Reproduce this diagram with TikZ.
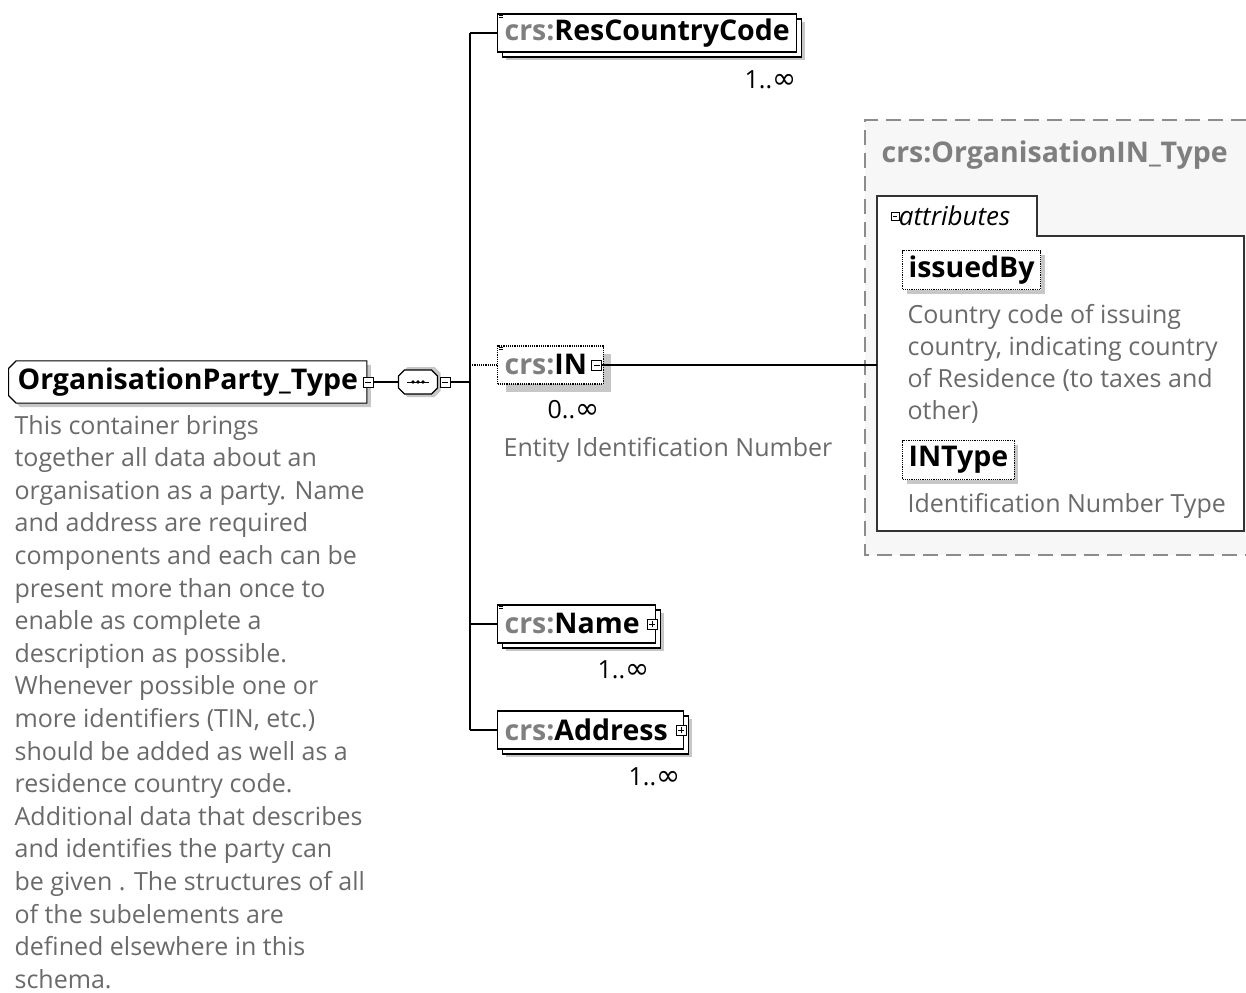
\documentclass[tikz,border=0pt]{standalone}
\usepackage{fontspec}
\setmainfont{Open Sans}
\newfontfamily\symfont{DejaVu Sans}
\usetikzlibrary{shapes.misc, shadows, positioning}

\definecolor{crsgray}{HTML}{7F7F7F}
\definecolor{descgray}{HTML}{6A6A6A}
\newcommand\crspre{\textcolor{crsgray}{crs:}}
\newcommand\infsym{{\symfont\fontsize{29}{30}\selectfont ∞}}
\newcommand\boldfont{\fontsize{28.5}{32}\selectfont\bfseries}

\tikzset{
  elem/.style={draw, fill=white, anchor=west, inner xsep=7pt, minimum height=38pt, font=\boldfont,
    drop shadow={shadow xshift=8pt, shadow yshift=-8pt, fill=black!22, opacity=1}},
  multi/.style={copy shadow={shadow xshift=5pt, shadow yshift=-5pt}},
  attrib/.style={draw, densely dotted, fill=white, anchor=west, inner xsep=6pt, minimum height=39pt,
    font=\boldfont, drop shadow={shadow xshift=4pt, shadow yshift=-4pt, fill=black!22, opacity=1}},
  pmbox/.style={draw, solid, fill=white, minimum size=10pt, inner sep=0pt, line width=0.8pt},
  minus/.style={pmbox, path picture={\draw ([xshift=2pt]path picture bounding box.west)
    -- ([xshift=-2pt]path picture bounding box.east);}},
  plus/.style={pmbox, path picture={
    \draw ([xshift=2pt]path picture bounding box.west) -- ([xshift=-2pt]path picture bounding box.east);
    \draw ([yshift=2pt]path picture bounding box.south) -- ([yshift=-2pt]path picture bounding box.north);}},
  mult/.style={anchor=east, font=\fontsize{25}{28}\selectfont, inner sep=0pt},
  desc/.style={anchor=base west, font=\fontsize{25}{28}\selectfont, text=descgray, inner sep=0pt}
}

\begin{document}
\begin{tikzpicture}[x=1pt, y=-1pt, line width=1.2pt]
  \useasboundingbox (0,0) rectangle (1246,992);

  % referenced type on the right
  \fill[black!3] (865,120) rectangle (1246,555);
  \draw[black!45, line width=1.5pt, dash pattern=on 15pt off 8pt]
    (1246,120) -- (865,120) -- (865,555) -- (1246,555);
  \node[anchor=west, inner sep=0pt, text=crsgray, font=\boldfont]
    (intype) at (881,155) {crs:OrganisationIN\_Type};
  \draw[black!80, fill=white] (877,531) -- (877,196) -- (1037,196) -- (1037,236)
    -- (1244,236) -- (1244,531) -- cycle;
  \node[minus, minimum size=8pt, line width=0.6pt] (attrpm) at (895,216) {};
  \node[anchor=west, inner sep=0pt, font=\fontsize{26}{30}\selectfont\itshape]
    (attrs) at ([xshift=-1pt]attrpm.east) {attributes};

  \node[attrib] (issued) at (902,270) {issuedBy};
  \foreach \t [count=\i] in {Country code of issuing, {country, indicating country},
      of Residence (to taxes and, other)}
    \node[desc] (iss\i) at (907,{323+32*(\i-1)}) {\t};
  \node[attrib] (intp) at (902,460) {INType};
  \node[desc] (intpdoc) at (907,512) {Identification Number Type};

  % main element and its sequence
  \node[draw, fill=white, anchor=west, chamfered rectangle, chamfered rectangle xsep=4pt,
    chamfered rectangle corners={north west, south west}, inner xsep=5pt, minimum height=36pt,
    font=\boldfont, drop shadow={shadow xshift=4pt, shadow yshift=-4pt, fill=black!22, opacity=1}]
    (main) at (8,382) {OrganisationParty\_Type};
  \node[minus] (mainpm) at ([xshift=1pt]main.east) {};

  \node[minimum width=39pt, minimum height=24pt, inner sep=0pt] (seq) at (418,382) {};
  \fill[black!22] ([shift={(-16.5,-9)}]seq.center) -- ([shift={(-10.5,-15)}]seq.center)
    -- ([shift={(16.5,-15)}]seq.center) -- ([shift={(22.5,-9)}]seq.center)
    -- ([shift={(22.5,9)}]seq.center) -- ([shift={(16.5,15)}]seq.center)
    -- ([shift={(-10.5,15)}]seq.center) -- ([shift={(-16.5,9)}]seq.center) -- cycle;
  \draw[fill=white] ([shift={(-19.5,-6)}]seq.center) -- ([shift={(-13.5,-12)}]seq.center)
    -- ([shift={(13.5,-12)}]seq.center) -- ([shift={(19.5,-6)}]seq.center)
    -- ([shift={(19.5,6)}]seq.center) -- ([shift={(13.5,12)}]seq.center)
    -- ([shift={(-13.5,12)}]seq.center) -- ([shift={(-19.5,6)}]seq.center) -- cycle;
  \draw[line width=0.8pt] ([xshift=-11pt]seq.center) -- ([xshift=11pt]seq.center);
  \foreach \d in {-5,0,5} \fill ([xshift=\d pt]seq.center) circle (1.8pt);
  \node[minus] (seqpm) at (445,382) {};

  \coordinate (jn) at (470,382);
  \coordinate (t1) at (470,33);
  \coordinate (t2) at (470,365);
  \coordinate (t3) at (470,624);
  \coordinate (t4) at (470,730);

  \draw (mainpm) -- (seq);
  \draw (seqpm) -- (jn);
  \draw (t1) -- (t4);

  % children
  \node[elem, multi] (rcc) at (497,33) {\crspre ResCountryCode};
  \node[elem, densely dotted] (in) at (497,365) {\crspre IN\rule{9pt}{0pt}};
  \node[minus] (inpm) at ([xshift=-7pt]in.east) {};
  \node[elem, multi] (name) at (497,624) {\crspre Name\rule{9pt}{0pt}};
  \node[plus] (namepm) at ([xshift=-4pt]name.east) {};
  \node[elem, multi] (addr) at (497,730) {\crspre Address\rule{9pt}{0pt}};
  \node[plus] (addrpm) at ([xshift=-3pt]addr.east) {};

  % small element marks
  \foreach \n in {rcc, in, name}
    \foreach \k in {2,4}
      \draw[line width=0.6pt, solid] ([shift={(2,\k)}]\n.north west) -- ++(4,0);

  \draw (t1) -- (rcc.west);
  \draw[densely dotted] (t2) -- (in.west);
  \draw (t3) -- (name.west);
  \draw (t4) -- (addr.west);

  \coordinate (attrin) at (877,365);
  \draw (inpm) -- (attrin);

  \node[mult] (rccm) at (797,80) {1..\infsym};
  \node[mult] (inm) at (600,410) {0..\infsym};
  \node[mult] (namem) at (650,670) {1..\infsym};
  \node[mult] (addrm) at (681,777) {1..\infsym};
  \node[desc] (indoc) at (503,456) {Entity Identification Number};

  % documentation of the main element
  \foreach \t [count=\i] in {This container brings, together all data about an,
      organisation as a party. Name, and address are required,
      components and each can be, present more than once to,
      enable as complete a, description as possible.,
      Whenever possible one or, {more identifiers (TIN, etc.)},
      should be added as well as a, residence country code.,
      Additional data that describes, and identifies the party can,
      be given . The structures of all, of the subelements are,
      defined elsewhere in this, schema.}
    \node[desc] (doc\i) at (14,{434+32.6*(\i-1)}) {\t};
\end{tikzpicture}
\end{document}
